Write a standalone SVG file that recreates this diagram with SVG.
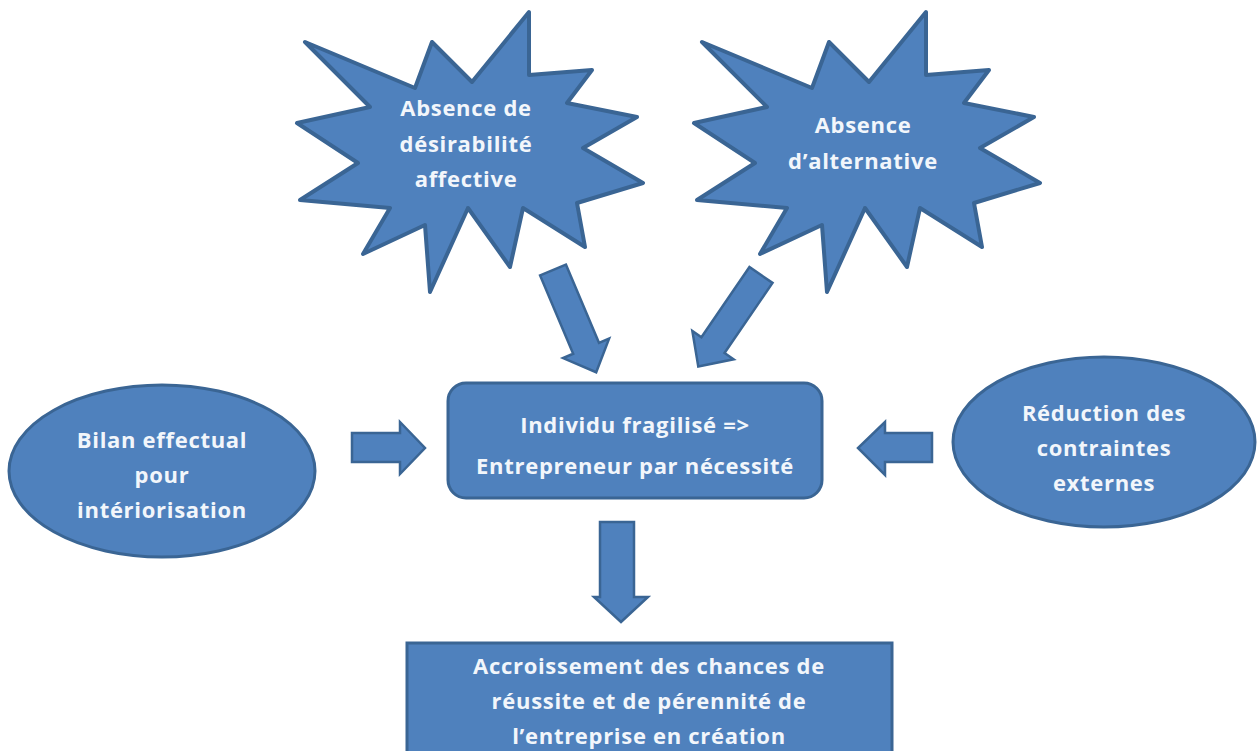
<svg xmlns="http://www.w3.org/2000/svg" width="1258" height="751" viewBox="0 0 1258 751">
  <defs>
    <style>
      .shape { fill: #4f81bd; stroke: #3a6594; stroke-width: 3; stroke-linejoin: round; }
      .star { stroke-width: 4; }
      .arrow { fill: #4f81bd; stroke: #3a6594; stroke-width: 2.5; stroke-linejoin: miter; }
      .lbl { font-family: "Open Sans", "Liberation Sans", sans-serif; font-weight: bold; font-size: 22px; letter-spacing: 0.7px; fill: #f2f6fb; text-anchor: middle; }
    </style>
    <path id="starShape" d="M305,42 L415,88 L432,42 L472,82 L529,12 L529,75 L592,70 L567,103 L637,117 L583,148 L643,183 L577,203 L585,247 L523,208 L510,267 L468,208 L430,292 L425,225 L363,254 L390,208 L300,200 L358,163 L297,123 L370,107 Z"/>
  </defs>
  <rect x="0" y="0" width="1258" height="751" fill="#ffffff"/>

  <g id="connectors">
    <path class="arrow" transform="translate(553,270) rotate(67.1)" d="M0,-14 L85,-14 L85,-25 L111,0 L85,25 L85,14 L0,14 Z"/>
    <path class="arrow" transform="translate(761,275) rotate(124.4)" d="M0,-14 L85,-14 L85,-25 L111,0 L85,25 L85,14 L0,14 Z"/>
    <path class="arrow" d="M352,433 L400,433 L400,422 L425,448 L400,474 L400,462 L352,462 Z"/>
    <path class="arrow" d="M932,433 L885,433 L885,422 L858,448 L885,475 L885,462 L932,462 Z"/>
    <path class="arrow" d="M600,522 L634,522 L634,597 L648,597 L621,622 L594,597 L600,597 Z"/>
  </g>

  <g id="node-desirabilite">
    <use href="#starShape" class="shape star"/>
    <text class="lbl" x="466" y="116">Absence de</text>
    <text class="lbl" x="466" y="152">désirabilité</text>
    <text class="lbl" x="466" y="187">affective</text>
  </g>

  <g id="node-alternative">
    <use href="#starShape" class="shape star" transform="translate(397,0)"/>
    <text class="lbl" x="863" y="133">Absence</text>
    <text class="lbl" x="863" y="169">d’alternative</text>
  </g>

  <g id="node-individu">
    <rect class="shape" x="448" y="383" width="374" height="115" rx="18" ry="18"/>
    <text class="lbl" x="635" y="433">Individu fragilisé =&gt;</text>
    <text class="lbl" x="635" y="474">Entrepreneur par nécessité</text>
  </g>

  <g id="node-bilan">
    <ellipse class="shape" cx="162" cy="471" rx="153" ry="86"/>
    <text class="lbl" x="162" y="448">Bilan effectual</text>
    <text class="lbl" x="162" y="483">pour</text>
    <text class="lbl" x="162" y="518">intériorisation</text>
  </g>

  <g id="node-reduction">
    <ellipse class="shape" cx="1104" cy="442" rx="151" ry="85"/>
    <text class="lbl" x="1104" y="421">Réduction des</text>
    <text class="lbl" x="1104" y="456">contraintes</text>
    <text class="lbl" x="1104" y="491">externes</text>
  </g>

  <g id="node-accroissement">
    <rect class="shape" x="407" y="643" width="485" height="120" style="stroke-linejoin: miter;"/>
    <text class="lbl" x="649" y="674">Accroissement des chances de</text>
    <text class="lbl" x="649" y="709">réussite et de pérennité de</text>
    <text class="lbl" x="649" y="744">l’entreprise en création</text>
  </g>
</svg>
